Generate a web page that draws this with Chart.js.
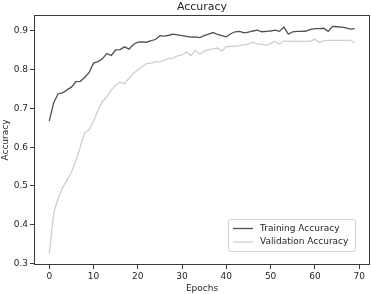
<!DOCTYPE html>
<html>
<head>
<meta charset="utf-8">
<script src="https://cdn.jsdelivr.net/npm/chart.js@4.4.0/dist/chart.umd.min.js"></script>
<style>
html,body{margin:0;padding:0;background:#fff;}
#wrap{width:371px;height:294px;position:relative;}
</style>
</head>
<body>
<div id="wrap"><canvas id="c" width="371" height="294"></canvas></div>
<script>
const epochs = [0,1,2,3,4,5,6,7,8,9,10,11,12,13,14,15,16,17,18,19,20,21,22,23,24,25,26,27,28,29,30,31,32,33,34,35,36,37,38,39,40,41,42,43,44,45,46,47,48,49,50,51,52,53,54,55,56,57,58,59,60,61,62,63,64,65,66,67,68,69];
const trainingAccuracy = [0.667,0.715,0.738,0.740,0.748,0.755,0.769,0.770,0.780,0.793,
  0.817,0.821,0.828,0.842,0.837,0.851,0.852,0.859,0.853,0.865,
  0.871,0.872,0.871,0.875,0.878,0.888,0.887,0.889,0.892,0.890,
  0.888,0.886,0.884,0.885,0.883,0.888,0.892,0.896,0.891,0.888,
  0.885,0.893,0.898,0.899,0.895,0.897,0.900,0.902,0.898,0.899,
  0.900,0.902,0.899,0.910,0.892,0.898,0.899,0.899,0.900,0.904,
  0.906,0.906,0.907,0.899,0.912,0.911,0.910,0.908,0.905,0.906];
const validationAccuracy = [0.325,0.430,0.468,0.495,0.515,0.535,0.565,0.600,0.637,0.645,
  0.667,0.695,0.718,0.730,0.748,0.760,0.768,0.764,0.778,0.790,
  0.800,0.808,0.816,0.817,0.820,0.820,0.825,0.829,0.830,0.836,
  0.838,0.846,0.836,0.850,0.840,0.848,0.852,0.854,0.856,0.848,
  0.860,0.860,0.861,0.862,0.864,0.866,0.871,0.866,0.866,0.863,
  0.868,0.873,0.866,0.874,0.873,0.874,0.873,0.873,0.873,0.873,
  0.879,0.870,0.875,0.876,0.876,0.876,0.876,0.876,0.876,0.869];
const xTicks = [0,10,20,30,40,50,60,70];
const yTicks = [0.3,0.4,0.5,0.6,0.7,0.8,0.9];
const seriesLabels = ['Training Accuracy','Validation Accuracy'];
const seriesColors = ['#505050','#cfcfcf'];
const chartTitle = 'Accuracy';

const FONT = "'DejaVu Sans', sans-serif";
const TXT = '#262626';

const frame = {
  id:'frame',
  beforeDraw(chart){
    const ctx = chart.ctx;
    ctx.save(); ctx.fillStyle='#fff'; ctx.fillRect(0,0,chart.width,chart.height); ctx.restore();
  },
  afterDraw(chart){
    const ctx = chart.ctx, a = chart.chartArea;
    ctx.save();
    ctx.strokeStyle = '#3a3a3a'; ctx.lineWidth = 1;
    ctx.strokeRect(Math.round(a.left)+0.5, Math.round(a.top)+0.5, Math.round(a.right-a.left)-1, Math.round(a.bottom-a.top)-1);
    // title centred over plot area
    ctx.fillStyle = TXT;
    ctx.font = '11px ' + FONT;
    ctx.textAlign = 'center';
    ctx.textBaseline = 'alphabetic';
    ctx.fillText(chartTitle, (a.left + a.right)/2, 9.5);
    // legend
    ctx.textAlign = 'left';
    const bx = 228.5, by = 219.5, bw = 127, bh = 32;
    ctx.fillStyle = 'rgba(255,255,255,0.85)';
    ctx.strokeStyle = '#d0d0d0';
    ctx.beginPath();
    if (ctx.roundRect) ctx.roundRect(bx,by,bw,bh,2); else ctx.rect(bx,by,bw,bh);
    ctx.fill(); ctx.stroke();
    ctx.font = '9px ' + FONT;
    ctx.textBaseline = 'middle';
    chart.data.datasets.forEach((ds,i)=>{
      const y = 228.5 + i*13.6;
      ctx.strokeStyle = ds.borderColor; ctx.lineWidth = 1.3;
      ctx.beginPath(); ctx.moveTo(233,y); ctx.lineTo(253,y); ctx.stroke();
      ctx.fillStyle = TXT;
      ctx.fillText(ds.label, 260, y);
    });
    ctx.restore();
  }
};

new Chart(document.getElementById('c'), {
  type:'line',
  data:{
    datasets:[
      {label:seriesLabels[0], data:epochs.map((e,i)=>({x:e,y:trainingAccuracy[i]})), borderColor:seriesColors[0], borderWidth:1.3, pointRadius:0, fill:false, tension:0},
      {label:seriesLabels[1], data:epochs.map((e,i)=>({x:e,y:validationAccuracy[i]})), borderColor:seriesColors[1], borderWidth:1.3, pointRadius:0, fill:false, tension:0}
    ]
  },
  options:{
    responsive:false, animation:false, devicePixelRatio:1,
    layout:{padding:{left:0,right:1,top:15,bottom:0}},
    plugins:{
      legend:{display:false},
      tooltip:{enabled:false},
      title:{display:false}
    },
    scales:{
      x:{
        type:'linear', min:-3.45, max:72.45,
        afterBuildTicks(s){ s.ticks = xTicks.map(v=>({value:v})); },
        afterFit(s){ s.height = 29; },
        grid:{drawOnChartArea:false, drawTicks:true, tickLength:4, color:'#3a3a3a'},
        border:{display:false},
        ticks:{color:TXT, font:{family:FONT,size:9}, padding:2, maxRotation:0, callback:(v)=>String(v)},
        title:{display:true, text:'Epochs', color:TXT, font:{family:FONT,size:9}, padding:{top:0,bottom:0}}
      },
      y:{
        type:'linear', min:0.2957, max:0.9413,
        afterBuildTicks(s){ s.ticks = yTicks.map(v=>({value:v})); },
        afterFit(s){ s.width = 34; },
        grid:{drawOnChartArea:false, drawTicks:true, tickLength:4, color:'#3a3a3a'},
        border:{display:false},
        ticks:{color:TXT, font:{family:FONT,size:9}, padding:2, callback:(v)=>Number(v).toFixed(1)},
        title:{display:true, text:'Accuracy', color:TXT, font:{family:FONT,size:9}, padding:{top:0,bottom:0}}
      }
    }
  },
  plugins:[frame]
});
</script>
</body>
</html>
